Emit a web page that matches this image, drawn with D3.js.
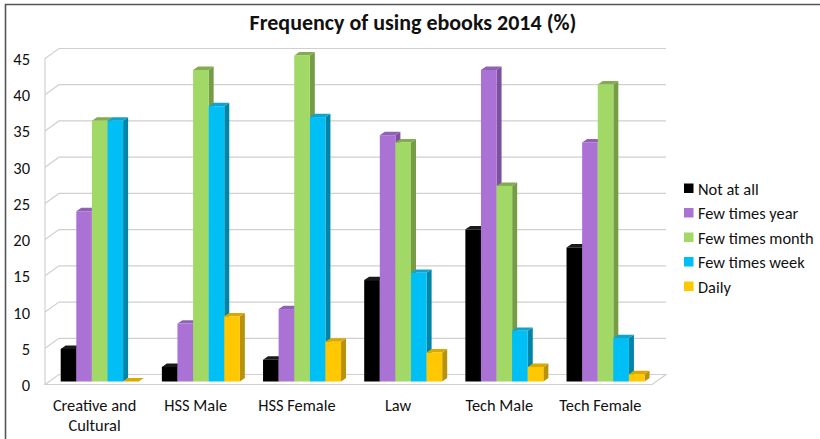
<!DOCTYPE html>
<html><head><meta charset="utf-8">
<style>
html,body{margin:0;padding:0;background:#fff;overflow:hidden}
text{font-family:Carlito,Lato,"Open Sans",sans-serif;fill:#111}
</style>
<script src="https://cdn.jsdelivr.net/npm/d3@7"></script>
</head><body><svg id="c" width="820" height="439"></svg>
<script>
const categories = ["Creative and\nCultural","HSS Male","HSS Female","Law","Tech Male","Tech Female"];
const seriesNames = ["Not at all","Few times year","Few times month","Few times week","Daily"];
const notAtAll = [4.5,2,3,14,21,18.5];
const fewYear = [23.5,8,10,34,43,33];
const fewMonth = [36,43,45,33,27,41];
const fewWeek = [36,38,36.5,15,7,6];
const daily = [0,9,5.5,4,2,1];
const seriesValues = [notAtAll,fewYear,fewMonth,fewWeek,daily];
const faceColors = ["#000000","#ab72d6","#a2d966","#00bff5","#ffc800"];
const topColors = ["#1a1a1a","#8f62b3","#82ac4f","#12a3cc","#d9a900"];
const sideColors = ["#111111","#7d4f9e","#769c45","#0084a8","#b8920a"];
const yTicks = [0,5,10,15,20,25,30,35,40,45];

const svg = d3.select("#c");
const W = 820, H = 439;
const depthX = 14, depthY = 10;     // wall depth
const barDX = 5, barDY = 3.4;       // bar depth
const y = d3.scaleLinear().domain([0,45]).range([384.5,58.5]);
const x0 = d3.scaleBand().domain(d3.range(categories.length)).range([45,652]);
const x1 = d3.scaleBand().domain(d3.range(seriesNames.length)).range([15.7,93.7]);

// frame
svg.append("path").attr("d",`M5.5,${H} V4.5 H${W}`).attr("fill","none").attr("stroke","#555").attr("stroke-width",1.6);

// title
svg.append("text").attr("x",413).attr("y",30).attr("text-anchor","middle")
  .attr("font-size",22).attr("font-weight",700).text("Frequency of using ebooks 2014 (%)");

// gridlines
const grid = svg.append("g").attr("fill","none").attr("stroke","#d0d0d0").attr("stroke-width",1.2);
yTicks.forEach(t=>{
  const yy=y(t);
  if(t>0) grid.append("path").attr("d",`M45,${yy} L${45+depthX},${yy-depthY} H${652+depthX}`);
});
grid.append("path").attr("d",`M45,${y(0)} L${45+depthX},${y(0)-depthY} H${652+depthX} L652,${y(0)} Z`);
grid.append("path").attr("d",`M45,${y(45)} V${y(0)}`);

// y labels
svg.append("g").selectAll("text").data(yTicks).join("text")
  .attr("x",30).attr("y",d=>y(d)+6.5).attr("text-anchor","end").attr("font-size",16.5).text(d=>d);

// bars
categories.forEach((c,i)=>{
  const g = svg.append("g").attr("transform",`translate(${x0(i)},0)`);
  seriesValues.forEach((vals,s)=>{
    const l=x1(s), r=l+x1.bandwidth(), b=y(0)-3, t=y(vals[i])-3;
    g.append("path").attr("fill",sideColors[s])
      .attr("d",`M${r},${b} L${r+barDX},${b-barDY} V${t-barDY} L${r},${t} Z`);
    g.append("path").attr("fill",topColors[s])
      .attr("d",`M${l},${t} L${l+barDX},${t-barDY} H${r+barDX} L${r},${t} Z`);
    g.append("rect").attr("x",l).attr("y",t).attr("width",x1.bandwidth()).attr("height",Math.max(0,b-t)).attr("fill",faceColors[s]);
  });
});

// category labels
categories.forEach((c,i)=>{
  const t = svg.append("text").attr("text-anchor","middle").attr("font-size",16.4);
  c.split("\n").forEach((ln,k)=>{
    t.append("tspan").attr("x",x0(i)+x0.bandwidth()/2-1).attr("y",411+k*20).text(ln);
  });
});

// legend
const legY = d3.scalePoint().domain(seriesNames).range([188.5,286.5]);
const leg = svg.append("g").selectAll("g").data(seriesNames).join("g")
  .attr("transform",d=>`translate(684,${legY(d)})`);
leg.append("rect").attr("x",0).attr("y",-5).attr("width",9.5).attr("height",9.5).attr("fill",(d,i)=>faceColors[i]);
leg.append("text").attr("x",14).attr("y",6).attr("font-size",16.4).text(d=>d);
</script></body></html>
